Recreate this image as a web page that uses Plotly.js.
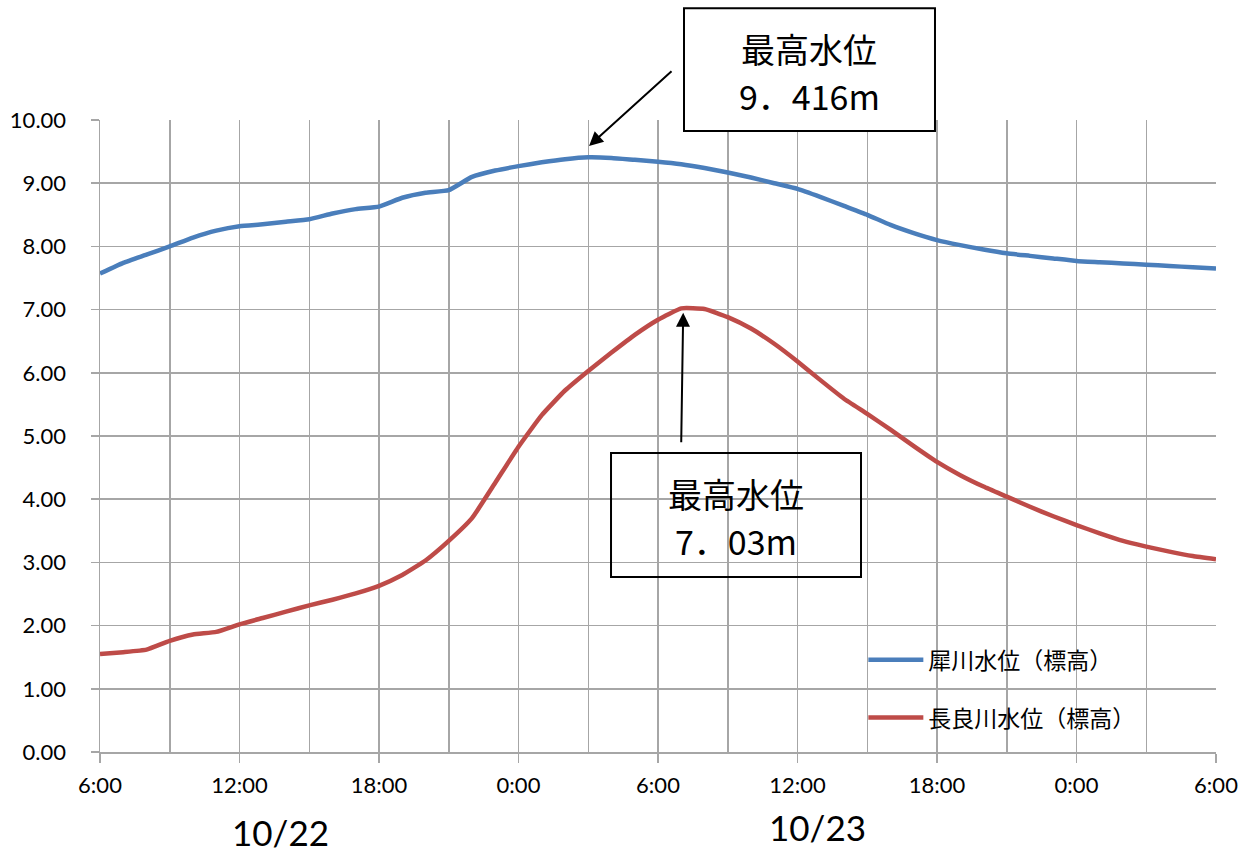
<!DOCTYPE html>
<html>
<head>
<meta charset="utf-8">
<script src="https://cdn.plot.ly/plotly-3.0.1.min.js"></script>
<style>html,body{margin:0;padding:0;background:#fff;}#chart{width:1247px;height:852px;}</style>
</head>
<body>
<div id="chart"></div>
<script>
// Time stamps (hourly, 2017-10-22 06:00 to 2017-10-24 06:00)
const times = [
  '2017-10-22 06:00','2017-10-22 07:00','2017-10-22 08:00','2017-10-22 09:00','2017-10-22 10:00','2017-10-22 11:00',
  '2017-10-22 12:00','2017-10-22 13:00','2017-10-22 14:00','2017-10-22 15:00','2017-10-22 16:00','2017-10-22 17:00',
  '2017-10-22 18:00','2017-10-22 19:00','2017-10-22 20:00','2017-10-22 21:00','2017-10-22 22:00','2017-10-22 23:00',
  '2017-10-23 00:00','2017-10-23 01:00','2017-10-23 02:00','2017-10-23 03:00','2017-10-23 04:00','2017-10-23 05:00',
  '2017-10-23 06:00','2017-10-23 07:00','2017-10-23 08:00','2017-10-23 09:00','2017-10-23 10:00','2017-10-23 11:00',
  '2017-10-23 12:00','2017-10-23 13:00','2017-10-23 14:00','2017-10-23 15:00','2017-10-23 16:00','2017-10-23 17:00',
  '2017-10-23 18:00','2017-10-23 19:00','2017-10-23 20:00','2017-10-23 21:00','2017-10-23 22:00','2017-10-23 23:00',
  '2017-10-24 00:00','2017-10-24 01:00','2017-10-24 02:00','2017-10-24 03:00','2017-10-24 04:00','2017-10-24 05:00',
  '2017-10-24 06:00'
];

// 犀川水位（標高） [m]
const saigawa = [
  7.57, 7.74, 7.87, 8.00, 8.14, 8.25,
  8.32, 8.35, 8.39, 8.43, 8.52, 8.59,
  8.63, 8.77, 8.85, 8.89, 9.10, 9.20,
  9.27, 9.33, 9.38, 9.41, 9.40, 9.37,
  9.34, 9.30, 9.24, 9.17, 9.09, 9.00,
  8.91, 8.78, 8.64, 8.50, 8.34, 8.21,
  8.10, 8.02, 7.95, 7.89, 7.85, 7.81,
  7.77, 7.75, 7.73, 7.71, 7.69, 7.67,
  7.65
];

// 長良川水位（標高） [m]
const nagaragawa = [
  1.55, 1.58, 1.62, 1.76, 1.86, 1.90,
  2.02, 2.12, 2.22, 2.32, 2.41, 2.51,
  2.63, 2.80, 3.03, 3.34, 3.70, 4.26,
  4.83, 5.33, 5.72, 6.03, 6.32, 6.60,
  6.84, 7.02, 7.01, 6.88, 6.70, 6.46,
  6.18, 5.88, 5.59, 5.35, 5.10, 4.84,
  4.59, 4.38, 4.20, 4.04, 3.88, 3.73,
  3.59, 3.46, 3.34, 3.25, 3.17, 3.10,
  3.05
];

const seriesNames = ['犀川水位（標高）', '長良川水位（標高）'];
const peakLabels = ['最高水位', '9．416m', '7．03m'];
const dateLabels = ['10/22', '10/23'];

const gridColor = '#a6a6a6';
const latin = 'Lato, "Liberation Sans", sans-serif';
const cjk = '"Noto Sans CJK JP", "Noto Sans", sans-serif';

const traces = [
  {x: times, y: saigawa, name: seriesNames[0], type: 'scatter', mode: 'lines',
   line: {color: '#4A7EBB', width: 4.5, shape: 'spline', smoothing: 0.4}, legendgroup: 'a'},
  {x: times, y: nagaragawa, name: seriesNames[1], type: 'scatter', mode: 'lines',
   line: {color: '#BE4B48', width: 4.5, shape: 'spline', smoothing: 0.4}, legendgroup: 'b'}
];

const boxText = (x, y, t) => ({xref: 'paper', yref: 'paper', x: x, y: y, text: t, showarrow: false,
  xanchor: 'center', yanchor: 'middle', font: {family: cjk, size: 34, color: '#000'}});

const layout = {
  width: 1247, height: 852,
  margin: {l: 100, r: 31, t: 120, b: 100},
  paper_bgcolor: '#fff', plot_bgcolor: '#fff',
  showlegend: true,
  legend: {x: 0.684, y: 0.18, xanchor: 'left', yanchor: 'top', bgcolor: 'rgba(0,0,0,0)',
           font: {family: cjk, size: 23, color: '#000'}, tracegroupgap: 25, itemwidth: 55},
  xaxis: {
    type: 'date',
    range: ['2017-10-22 06:00', '2017-10-24 06:00'],
    tick0: '2017-10-22 06:00', dtick: 6 * 3600000,
    tickformat: '%-H:%M',
    showgrid: true, gridcolor: gridColor, gridwidth: 1.5,
    minor: {dtick: 3 * 3600000, showgrid: true, gridcolor: gridColor, gridwidth: 1.5},
    showline: true, linecolor: gridColor, linewidth: 1.5,
    ticks: 'outside', ticklen: 9, tickcolor: gridColor, tickwidth: 1.5,
    tickfont: {family: latin, size: 22, color: '#000'}, ticklabelstandoff: 4,
    zeroline: false, fixedrange: true
  },
  yaxis: {
    range: [0, 10], dtick: 1, tick0: 0, tickformat: '.2f',
    showgrid: true, gridcolor: gridColor, gridwidth: 1.5,
    showline: true, linecolor: gridColor, linewidth: 1.5,
    ticks: 'outside', ticklen: 8, tickcolor: gridColor, tickwidth: 1.5,
    tickfont: {family: latin, size: 22, color: '#000'}, ticklabelstandoff: 20,
    zeroline: false, fixedrange: true
  },
  shapes: [
    {type: 'rect', xref: 'paper', yref: 'paper', x0: 0.5233, x1: 0.7482, y0: 0.9826, y1: 1.177,
     line: {color: '#000', width: 2}, fillcolor: '#fff', layer: 'above'},
    {type: 'rect', xref: 'paper', yref: 'paper', x0: 0.4579, x1: 0.6819, y0: 0.2769, y1: 0.4731,
     line: {color: '#000', width: 2}, fillcolor: 'rgba(0,0,0,0)', layer: 'above'}
  ],
  annotations: [
    boxText(0.6357, 1.1139, peakLabels[0]),
    boxText(0.6357, 1.038, peakLabels[1]),
    boxText(0.5699, 0.4098, peakLabels[0]),
    boxText(0.5699, 0.3354, peakLabels[2]),
    {xref: 'x', yref: 'y', x: '2017-10-23 03:02', y: 9.59, text: '', showarrow: true,
     ax: 84, ay: -76, arrowhead: 2, arrowsize: 1.4, arrowwidth: 2, arrowcolor: '#000'},
    {xref: 'x', yref: 'y', x: '2017-10-23 07:05', y: 6.95, text: '', showarrow: true,
     ax: -2, ay: 131, arrowhead: 2, arrowsize: 1.4, arrowwidth: 2, arrowcolor: '#000'},
    {xref: 'paper', yref: 'paper', x: 0.1613, y: -0.1266, text: dateLabels[0], showarrow: false,
     xanchor: 'center', yanchor: 'middle', font: {family: latin, size: 35, color: '#000'}},
    {xref: 'paper', yref: 'paper', x: 0.643, y: -0.118, text: dateLabels[1], showarrow: false,
     xanchor: 'center', yanchor: 'middle', font: {family: latin, size: 35, color: '#000'}}
  ]
};

Plotly.newPlot('chart', traces, layout, {displayModeBar: false, staticPlot: true});
</script>
</body>
</html>
